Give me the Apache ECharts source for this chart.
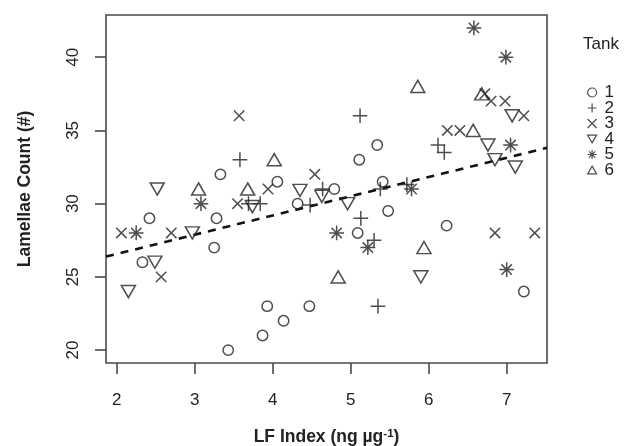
<!DOCTYPE html>
<html>
<head>
<meta charset="utf-8">
<script src="https://cdn.jsdelivr.net/npm/echarts@6/dist/echarts.min.js"></script>
<style>
  html, body { margin: 0; padding: 0; background: #fff; }
  #chart { width: 633px; height: 446px; }
</style>
</head>
<body>
<div id="chart"></div>
<script>
// Lamellae count vs LF index, one series per tank
const tankNames = ['1', '2', '3', '4', '5', '6'];

const tank1 = [[2.33, 26], [2.42, 29], [3.25, 27], [3.28, 29], [3.33, 32], [3.43, 20], [3.87, 21],
  [3.93, 23], [4.06, 31.5], [4.14, 22], [4.32, 30], [4.47, 23], [4.79, 31], [5.09, 28], [5.11, 33],
  [5.34, 34], [5.41, 31.5], [5.48, 29.5], [6.23, 28.5], [7.22, 24]];
const tank2 = [[3.58, 33], [3.69, 30], [3.84, 30], [4.48, 29.9], [4.64, 31], [5.12, 36], [5.13, 29],
  [5.30, 27.5], [5.35, 23], [5.38, 31], [5.72, 31.3], [6.12, 34], [6.20, 33.5]];
const tank3 = [[2.06, 28], [2.57, 25], [2.70, 28], [3.55, 30], [3.57, 36], [3.94, 31], [4.54, 32],
  [6.24, 35], [6.40, 35], [6.72, 37.5], [6.80, 37], [6.98, 37], [7.22, 36], [6.85, 28], [7.36, 28]];
const tank4 = [[2.15, 24], [2.49, 26], [2.52, 31], [2.97, 28], [3.74, 29.8], [4.35, 30.9], [4.63, 30.5],
  [4.96, 30], [5.90, 25], [6.76, 34], [6.85, 33], [7.07, 36], [7.11, 32.5]];
const tank5 = [[2.25, 28], [3.08, 30], [4.82, 28], [5.22, 27], [5.78, 31], [6.58, 42], [6.99, 40],
  [7.05, 34], [7.00, 25.5]];
const tank6 = [[3.05, 31], [3.68, 31], [4.02, 33], [4.84, 25], [5.86, 38], [5.94, 27], [6.57, 35],
  [6.68, 37.5]];

const xTicks = [2, 3, 4, 5, 6, 7];
const yTicks = [20, 25, 30, 35, 40];
const xRange = [1.863, 7.517];
const yRange = [19.12, 42.88];

// fitted trend line
const fitIntercept = 23.94;
const fitSlope = 1.313;

const tankData = [tank1, tank2, tank3, tank4, tank5, tank6];

// plotting-symbol geometry (base radius in px)
const R = 5.2;
const INK = '#222';
const symbolDefs = [
  { symbol: 'circle', size: 2 * R },
  { symbol: 'path://M-1,0L1,0M0,-1L0,1', size: 2 * 1.414 * R },
  { symbol: 'path://M-1,-1L1,1M-1,1L1,-1', size: 2 * R },
  { symbol: 'path://M0,1.555L1.347,-0.777L-1.347,-0.777Z', size: [2 * 1.347 * R, 2.332 * R] },
  { symbol: 'path://M-1.414,0L1.414,0M0,-1.414L0,1.414M-1,-1L1,1M-1,1L1,-1', size: 2 * 1.414 * R },
  { symbol: 'path://M0,-1.555L1.347,0.777L-1.347,0.777Z', size: [2 * 1.347 * R, 2.332 * R] }
];

const FONT = '"Liberation Sans", Arial, Helvetica, sans-serif';

const scatterSeries = tankNames.map((name, i) => ({
  name: name,
  type: 'scatter',
  data: tankData[i],
  symbol: symbolDefs[i].symbol,
  symbolSize: symbolDefs[i].size,
  itemStyle: { color: 'transparent', borderColor: INK, borderWidth: 1.5 },
  emphasis: { disabled: true },
  silent: true,
  z: 3
}));

const trendSeries = {
  name: 'trend',
  type: 'line',
  data: xRange.map(x => [x, fitIntercept + fitSlope * x]),
  symbol: 'none',
  lineStyle: { color: '#111', width: 2.6, type: [8, 7] },
  silent: true,
  clip: true,
  z: 2
};

const chart = echarts.init(document.getElementById('chart'), null, { renderer: 'canvas' });
chart.setOption({
  animation: false,
  backgroundColor: '#fff',
  textStyle: { fontFamily: FONT },
  grid: {
    left: 106, top: 15, width: 441, height: 348,
    outerBoundsMode: 'none',
    show: true, borderColor: '#4a4a4a', borderWidth: 1.6, backgroundColor: 'transparent'
  },
  xAxis: {
    type: 'value',
    min: xRange[0], max: xRange[1],
    splitLine: { show: false },
    axisLine: { show: false },
    axisTick: { show: true, inside: false, length: 11, customValues: xTicks,
      lineStyle: { color: '#4a4a4a', width: 1.6 } },
    axisLabel: { customValues: xTicks, margin: 29, fontSize: 17, color: '#222', fontFamily: FONT },
    name: 'LF Index (ng µg{sup|-1})',
    nameLocation: 'middle',
    nameGap: 65,
    nameTextStyle: {
      fontSize: 17.5, fontWeight: 'bold', color: '#222', fontFamily: FONT,
      rich: { sup: { fontSize: 11.5, fontWeight: 'bold', verticalAlign: 'top', color: '#222', fontFamily: FONT } }
    }
  },
  yAxis: {
    type: 'value',
    min: yRange[0], max: yRange[1],
    splitLine: { show: false },
    axisLine: { show: false },
    axisTick: { show: true, inside: false, length: 11, customValues: yTicks,
      lineStyle: { color: '#4a4a4a', width: 1.6 } },
    axisLabel: { customValues: yTicks, rotate: 90, margin: 24, fontSize: 17, color: '#222', fontFamily: FONT },
    name: 'Lamellae Count (#)',
    nameLocation: 'middle',
    nameRotate: 90,
    nameGap: 72,
    nameTextStyle: { fontSize: 17.5, fontWeight: 'bold', color: '#222', fontFamily: FONT }
  },
  legend: {
    data: tankNames,
    orient: 'vertical',
    left: 587, top: 84,
    padding: 0,
    itemWidth: 9, itemHeight: 9,
    itemGap: -1.5,
    selectedMode: false,
    itemStyle: { color: 'transparent', borderColor: INK, borderWidth: 1.2 },
    textStyle: { fontSize: 17, color: '#222', fontFamily: FONT, lineHeight: 15.5, padding: [0, 0, 0, 3] }
  },
  graphic: [{
    type: 'text', left: 583, top: 36,
    style: { text: 'Tank', fontSize: 17, fill: '#222', fontFamily: FONT }
  }],
  series: [trendSeries].concat(scatterSeries)
});
</script>
</body>
</html>
